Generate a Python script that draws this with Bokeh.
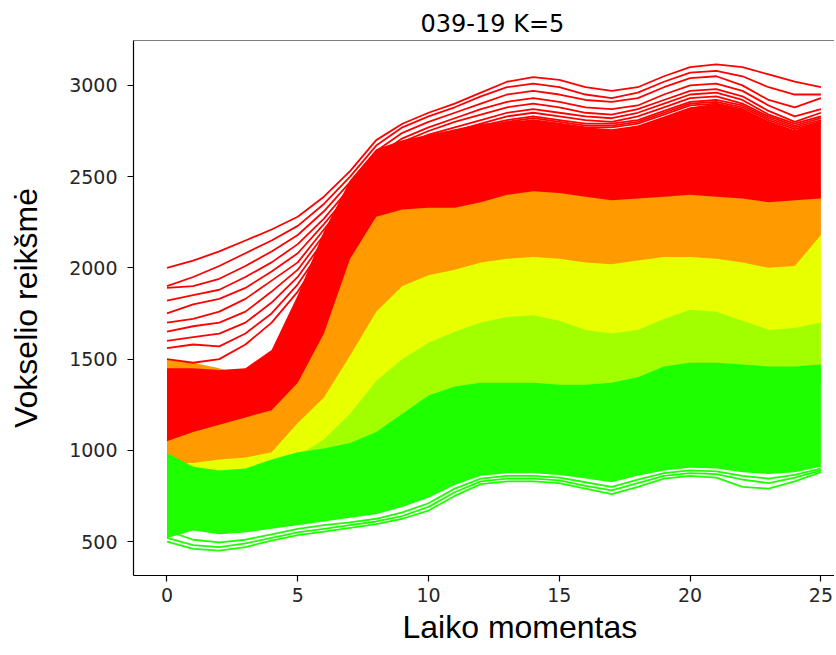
from bokeh.plotting import figure
from bokeh.models import Range1d, FixedTicker, Span, Title
from bokeh.embed import file_html
from bokeh.resources import INLINE

# ---- data ----
time = list(range(26))
x_ticks = [0, 5, 10, 15, 20, 25]
y_ticks = [500, 1000, 1500, 2000, 2500, 3000]

cluster_colors = ["#ff0000", "#ff9a00", "#e8ff00", "#a2ff00", "#1eff00"]

# band envelopes per cluster (dense core)
red_low = [1050, 1100, 1140, 1180, 1220, 1370, 1640, 2050, 2280, 2320, 2330, 2330, 2360, 2400, 2420, 2410, 2390, 2370, 2380, 2390, 2400, 2390, 2380, 2360, 2370, 2380]
red_high = [1450, 1450, 1440, 1450, 1550, 1850, 2200, 2480, 2650, 2700, 2730, 2760, 2790, 2800, 2810, 2790, 2770, 2760, 2780, 2830, 2880, 2900, 2870, 2800, 2750, 2800]
orange_low = [930, 930, 950, 960, 990, 1150, 1290, 1520, 1760, 1900, 1960, 1990, 2030, 2050, 2060, 2050, 2030, 2020, 2040, 2060, 2060, 2050, 2030, 2000, 2010, 2180]
orange_high = [1500, 1480, 1450, 1400, 1400, 1550, 1850, 2200, 2380, 2400, 2410, 2420, 2440, 2470, 2480, 2470, 2450, 2430, 2440, 2450, 2460, 2450, 2430, 2410, 2420, 2430]
yellow_low = [880, 870, 870, 880, 920, 970, 1060, 1200, 1380, 1500, 1590, 1650, 1700, 1730, 1740, 1710, 1660, 1640, 1660, 1720, 1770, 1760, 1710, 1660, 1670, 1700]
yellow_high = [1000, 1000, 1000, 1000, 1050, 1200, 1350, 1600, 1820, 1950, 2010, 2040, 2080, 2100, 2110, 2100, 2080, 2070, 2090, 2110, 2110, 2100, 2080, 2050, 2060, 2200]
ygreen_low = [700, 700, 700, 720, 760, 800, 850, 900, 1000, 1100, 1200, 1250, 1270, 1280, 1280, 1270, 1260, 1270, 1300, 1360, 1380, 1380, 1370, 1360, 1360, 1370]
ygreen_high = [900, 880, 880, 900, 950, 1000, 1100, 1250, 1420, 1560, 1640, 1700, 1740, 1770, 1780, 1750, 1700, 1680, 1700, 1760, 1810, 1800, 1750, 1700, 1710, 1740]
green_low = [520, 560, 540, 550, 570, 590, 610, 630, 650, 690, 740, 810, 860, 875, 875, 865, 845, 825, 860, 890, 905, 900, 880, 870, 880, 910]
green_high = [985, 910, 890, 900, 950, 990, 1010, 1040, 1100, 1200, 1300, 1350, 1370, 1370, 1370, 1360, 1360, 1370, 1400, 1460, 1480, 1480, 1470, 1460, 1460, 1470]

# individual visible curves (sparse upper red curves)
red_r1 = [2000, 2040, 2090, 2150, 2210, 2280, 2390, 2530, 2700, 2790, 2850, 2900, 2960, 3020, 3045, 3030, 2990, 2970, 2990, 3050, 3100, 3115, 3100, 3060, 3020, 2990]
red_r2 = [1900, 1950, 2010, 2080, 2150, 2230, 2350, 2500, 2670, 2770, 2830, 2880, 2940, 2990, 3010, 2990, 2950, 2930, 2960, 3020, 3070, 3080, 3050, 2990, 2950, 2950]
red_r3 = [1890, 1900, 1940, 2010, 2090, 2180, 2310, 2470, 2640, 2740, 2800, 2850, 2900, 2950, 2970, 2950, 2920, 2910, 2930, 2990, 3040, 3050, 3000, 2920, 2880, 2930]
red_r4 = [1820, 1850, 1880, 1950, 2030, 2130, 2270, 2440, 2610, 2710, 2770, 2820, 2870, 2910, 2930, 2910, 2880, 2870, 2890, 2950, 3000, 3010, 2970, 2890, 2830, 2870]
red_r5 = [1750, 1800, 1830, 1890, 1980, 2080, 2240, 2410, 2590, 2690, 2750, 2800, 2840, 2880, 2900, 2880, 2850, 2840, 2870, 2920, 2970, 2980, 2940, 2860, 2800, 2850]
red_r6 = [1700, 1720, 1760, 1830, 1930, 2030, 2210, 2390, 2570, 2670, 2730, 2770, 2810, 2850, 2870, 2850, 2830, 2820, 2850, 2900, 2950, 2960, 2920, 2840, 2790, 2830]
red_r7 = [1650, 1680, 1700, 1760, 1870, 1990, 2180, 2370, 2550, 2650, 2710, 2750, 2790, 2830, 2850, 2830, 2810, 2800, 2830, 2880, 2930, 2940, 2900, 2830, 2780, 2820]
red_r8 = [1600, 1620, 1640, 1700, 1810, 1950, 2150, 2350, 2530, 2640, 2700, 2740, 2780, 2810, 2830, 2810, 2790, 2790, 2810, 2860, 2910, 2920, 2890, 2820, 2770, 2810]
red_r9 = [1560, 1580, 1570, 1640, 1750, 1910, 2120, 2330, 2510, 2630, 2690, 2730, 2770, 2800, 2820, 2800, 2780, 2780, 2800, 2850, 2900, 2910, 2880, 2810, 2760, 2800]
red_r10 = [1500, 1480, 1500, 1580, 1700, 1870, 2090, 2310, 2500, 2620, 2680, 2720, 2760, 2790, 2810, 2790, 2770, 2770, 2790, 2840, 2890, 2900, 2870, 2800, 2750, 2800]

# sparse lower green curves
green_g1 = [500, 460, 450, 470, 505, 535, 555, 575, 595, 625, 670, 750, 815, 830, 830, 820, 790, 760, 800, 845, 860, 850, 800, 790, 830, 880]
green_g2 = [520, 480, 470, 490, 520, 550, 570, 590, 610, 640, 690, 770, 830, 845, 845, 835, 805, 780, 820, 860, 875, 870, 840, 820, 850, 890]
green_g3 = [560, 510, 495, 510, 540, 570, 590, 605, 625, 660, 710, 790, 845, 860, 860, 850, 825, 800, 840, 875, 890, 885, 860, 845, 865, 900]

red_curves = [red_r1, red_r2, red_r3, red_r4, red_r5, red_r6, red_r7, red_r8, red_r9, red_r10]
green_curves = [green_g1, green_g2, green_g3]

title_text = "039-19 K=5"
x_label = "Laiko momentas"
y_label = "Vokselio reikšmė"

# ---- figure ----
p = figure(width=834, height=646,
           x_range=Range1d(-1.28, 25.52), y_range=Range1d(314, 3246),
           output_backend="svg", toolbar_location=None,
           min_border_left=133, min_border_right=0,
           min_border_top=40, min_border_bottom=40)
p.background_fill_color = "white"
p.border_fill_color = "white"
p.outline_line_color = None
p.grid.visible = False

p.title.text = title_text
p.title.align = "left"
p.title.offset = 287
p.title.text_font = "DejaVu Sans"
p.title.text_font_size = "24px"
p.title.text_font_style = "normal"
p.title.text_color = "black"
p.title.standoff = 6

c_red, c_orange, c_yellow, c_ygreen, c_green = cluster_colors

p.varea(x=time, y1=ygreen_low, y2=ygreen_high, fill_color=c_ygreen)
p.varea(x=time, y1=yellow_low, y2=yellow_high, fill_color=c_yellow)
p.varea(x=time, y1=orange_low, y2=orange_high, fill_color=c_orange)
p.varea(x=time, y1=red_low, y2=red_high, fill_color=c_red)
for c in red_curves:
    p.line(x=time, y=c, line_color=c_red, line_width=1.8)
p.varea(x=time, y1=green_low, y2=green_high, fill_color=c_green)
for c in green_curves:
    p.line(x=time, y=c, line_color=c_green, line_width=1.8)

# top frame edge
p.add_layout(Span(location=3246, dimension="width", line_color="black", line_width=1.2))

for ax in (p.xaxis[0], p.yaxis[0]):
    ax.axis_line_color = "black"
    ax.axis_line_width = 1.2
    ax.major_tick_line_color = "black"
    ax.major_tick_line_width = 1.2
    ax.major_tick_out = 6
    ax.major_tick_in = 0
    ax.minor_tick_out = 0
    ax.minor_tick_in = 0
    ax.major_label_text_font = "DejaVu Sans"
    ax.major_label_text_font_size = "19px"
    ax.major_label_text_color = "#262626"

p.xaxis[0].ticker = FixedTicker(ticks=x_ticks)
p.yaxis[0].ticker = FixedTicker(ticks=y_ticks)
p.xaxis[0].major_label_standoff = 6
p.yaxis[0].major_label_standoff = 10

p.yaxis[0].axis_label = y_label
p.yaxis[0].axis_label_text_font = "Liberation Sans"
p.yaxis[0].axis_label_text_font_size = "32px"
p.yaxis[0].axis_label_text_font_style = "normal"
p.yaxis[0].axis_label_text_color = "black"
p.yaxis[0].axis_label_standoff = 22

xt = Title(text=x_label, align="left", offset=269, text_font="Liberation Sans",
           text_font_size="32px", text_font_style="normal", text_color="black", standoff=4)
p.add_layout(xt, "below")

open("out.html", "w").write(file_html(p, INLINE))
